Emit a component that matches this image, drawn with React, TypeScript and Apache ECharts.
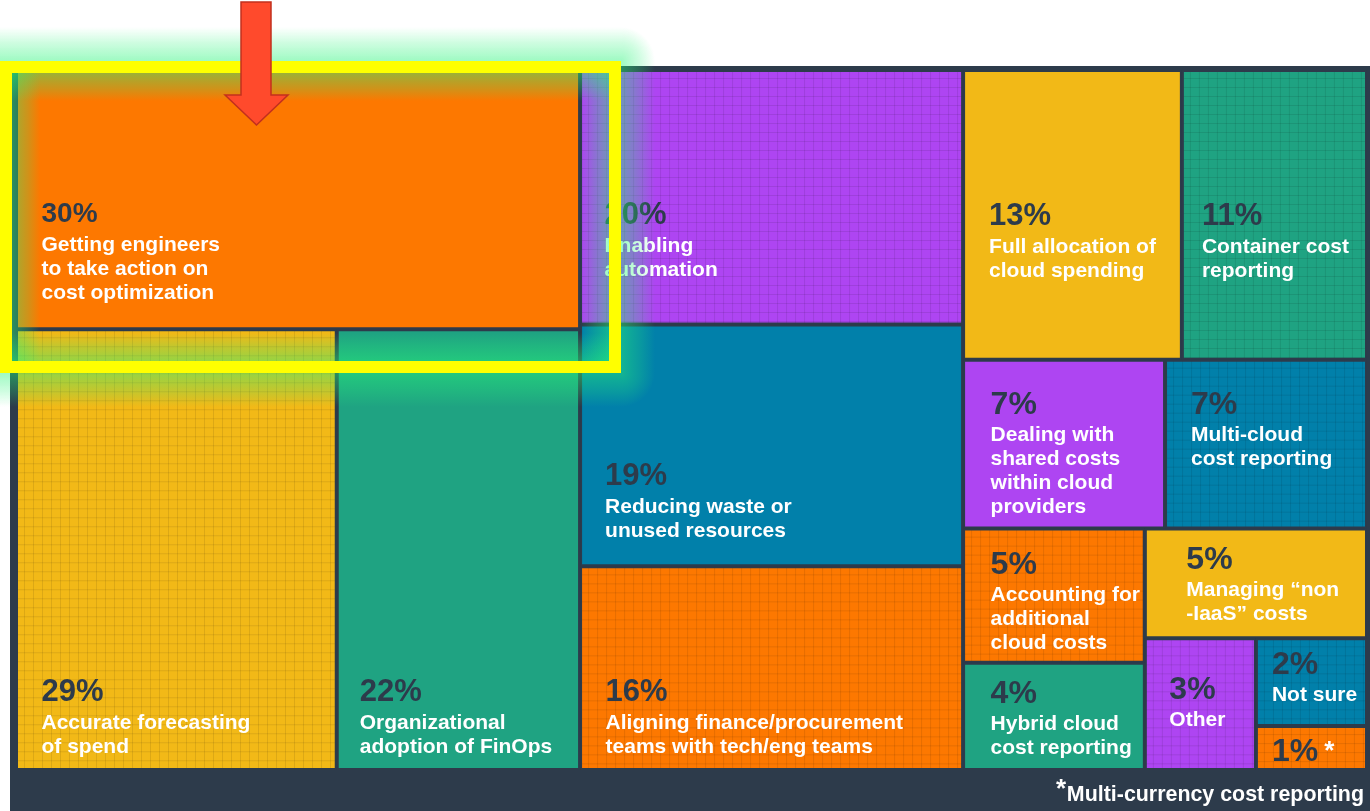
import React, { useEffect, useRef } from "react";
import * as echarts from "echarts";

// ---------- data ----------
const categories = [
  "Getting engineers\nto take action on\ncost optimization",
  "Accurate forecasting\nof spend",
  "Organizational\nadoption of FinOps",
  "Enabling\nautomation",
  "Reducing waste or\nunused resources",
  "Aligning finance/procurement\nteams with tech/eng teams",
  "Full allocation of\ncloud spending",
  "Container cost\nreporting",
  "Dealing with\nshared costs\nwithin cloud\nproviders",
  "Multi-cloud\ncost reporting",
  "Accounting for\nadditional\ncloud costs",
  "Managing \u201cnon\n-IaaS\u201d costs",
  "Hybrid cloud\ncost reporting",
  "Other",
  "Not sure",
  "Multi-currency cost reporting",
];
const values = [30, 29, 22, 20, 19, 16, 13, 11, 7, 7, 5, 5, 4, 3, 2, 1];
const footnoteIndex = 15;

// nesting of the tiles (indices into categories / values)
const layoutTree: any[] = [
  [0, [1, 2]],
  [3, 4, 5],
  [[6, 7], [8, 9], [[10, 12], [11, [13, [14, 15]]]]],
];

// ---------- styles ----------
const DARK = "#2d3b4b";
const FONT = "'Liberation Sans', Arial, sans-serif";
const palette = ["#fd7800", "#f2b917", "#1fa382", "#ae45f2", "#0180aa"];
const textured = [false, true, false, true, false, true, false, true, false, true, true, false, false, true, true, true];
// percent font size per tile
const pctSizes = [28, 31, 31, 31, 31, 31, 31, 31, 32, 32, 32, 32, 32, 32, 32, 32];
// label anchor [dx, dy] inside each tile
const labelOffsets = [
  [23.5, 120.1], [23.5, 340.5], [21, 340.5], [22.5, 122.6], [23, 128.9], [23.5, 103.4],
  [24, 124], [18, 124], [25.5, 23.4], [24, 23.4], [25.5, 14.4],
  [39.5, 9.4], [25.5, 8.6], [22.5, 29.7], [14, 4.7], [14, 3.5],
];
const CAP = 0.3695; // cap-top above the central baseline, in em

function gridPattern(color: string) {
  const s = 9;
  const svg =
    `<svg xmlns='http://www.w3.org/2000/svg' width='${s}' height='${s}'>` +
    `<rect width='${s}' height='${s}' fill='${color}'/>` +
    `<path d='M0 ${s - 0.5}H${s}M${s - 0.5} 0V${s}' stroke='rgba(0,0,0,0.09)' stroke-width='1' fill='none'/></svg>`;
  return {
    image: "data:image/svg+xml;charset=utf-8," + encodeURIComponent(svg),
    repeat: "repeat",
    imageWidth: s,
    imageHeight: s,
  };
}

function leaf(i: number) {
  const base = palette[i % palette.length];
  return {
    name: categories[i],
    value: values[i],
    idx: i,
    itemStyle: {
      color: textured[i] ? gridPattern(base) : base,
      borderWidth: 2,
      borderColor: DARK,
      gapWidth: 0,
    },
    label: { position: labelOffsets[i] },
  };
}

let groupCount = 0;
function buildNode(n: any): any {
  if (typeof n === "number") return leaf(n);
  groupCount += 1;
  return {
    name: "group" + groupCount,
    children: n.map(buildNode),
    itemStyle: { borderWidth: 0, gapWidth: 0, borderColor: DARK },
  };
}

function buildRich() {
  const rich: any = {
    name: { fontFamily: FONT, fontWeight: "bold", fontSize: 21, lineHeight: 24, color: "#ffffff" },
    star: { fontFamily: FONT, fontWeight: "bold", fontSize: 26, lineHeight: 36, color: "#ffffff", padding: [0, 0, 0, 6] },
    pctS: { fontFamily: FONT, fontWeight: "bold", fontSize: 32, lineHeight: 36, color: DARK },
  };
  Array.from(new Set(pctSizes)).forEach((fs) => {
    rich["p" + fs] = {
      fontFamily: FONT,
      fontWeight: "bold",
      fontSize: fs,
      lineHeight: 2 * (30.26 - CAP * fs),
      color: DARK,
    };
  });
  return rich;
}

const glow = (a: number) => `rgba(40,245,120,${a})`;
const stops = [
  { offset: 0, color: glow(0.45) },
  { offset: 0.55, color: glow(0.22) },
  { offset: 1, color: glow(0) },
];
function lin(x: number, y: number, x2: number, y2: number) {
  return { type: "linear", x, y, x2, y2, colorStops: stops };
}
function rad(x: number, y: number) {
  return { type: "radial", x, y, r: 1, colorStops: stops };
}
function band(x: number, y: number, w: number, h: number, fill: any) {
  return { type: "rect", silent: true, z: 100, shape: { x, y, width: w, height: h }, style: { fill } };
}

function buildOption(): any {
  groupCount = 0;
  const tree = layoutTree.map(buildNode);
  return {
    animation: false,
    graphic: [
      { type: "rect", silent: true, z: 0, shape: { x: 10, y: 66, width: 1360, height: 745 }, style: { fill: DARK } },
      // outer glow
      band(0, 27, 621, 34, lin(0, 1, 0, 0)),
      band(0, 373, 621, 34, lin(0, 0, 0, 1)),
      band(621, 61, 34, 312, lin(0, 0, 1, 0)),
      band(621, 27, 34, 34, rad(0, 1)),
      band(621, 373, 34, 34, rad(0, 0)),
      // inner glow
      band(12, 73, 597, 28, lin(0, 0, 0, 1)),
      band(12, 333, 597, 28, lin(0, 1, 0, 0)),
      band(12, 73, 28, 288, lin(0, 0, 1, 0)),
      band(581, 73, 28, 288, lin(1, 0, 0, 0)),
      {
        type: "rect",
        silent: true,
        z: 101,
        shape: { x: 6, y: 67, width: 609, height: 300 },
        style: { fill: "none", stroke: "#ffff00", lineWidth: 12 },
      },
      {
        type: "polygon",
        silent: true,
        z: 102,
        shape: {
          points: [
            [241, 2], [271, 2], [271, 95], [288, 95], [256.5, 125], [225, 95], [241, 95],
          ],
        },
        style: { fill: "#ff4a2c", stroke: "#c2301e", lineWidth: 1.5 },
      },
      {
        type: "text",
        silent: true,
        z: 102,
        style: {
          text: categories[footnoteIndex],
          x: 1364,
          y: 794,
          align: "right",
          verticalAlign: "middle",
          fill: "#ffffff",
          fontFamily: FONT,
          fontWeight: "bold",
          fontSize: 21.4,
        },
      },
      {
        type: "text",
        silent: true,
        z: 102,
        style: {
          text: "*",
          x: 1066,
          y: 788,
          align: "right",
          verticalAlign: "middle",
          fill: "#ffffff",
          fontFamily: FONT,
          fontWeight: "bold",
          fontSize: 26,
        },
      },
    ],
    series: [
      {
        type: "treemap",
        left: 16,
        top: 70,
        width: 1351,
        height: 700,
        roam: false,
        nodeClick: false,
        sort: false,
        squareRatio: 1,
        visibleMin: 0,
        breadcrumb: { show: false },
        upperLabel: { show: false },
        itemStyle: { borderWidth: 0, gapWidth: 0, borderColor: DARK },
        label: {
          show: true,
          padding: 0,
          distance: 0,
          overflow: "none",
          formatter: (p: any) => {
            const i = p.data ? p.data.idx : -1;
            if (i === footnoteIndex) return `{pctS|${p.value}%}{star|*}`;
            return `{p${pctSizes[i]}|${p.value}%}\n{name|${p.name}}`;
          },
          rich: buildRich(),
        },
        data: tree,
      },
    ],
  };
}

export default function App() {
  const ref = useRef<HTMLDivElement>(null);
  useEffect(() => {
    if (!ref.current) return;
    const chart = echarts.init(ref.current, null, { renderer: "svg" });
    chart.setOption(buildOption());
    return () => chart.dispose();
  }, []);
  return (
    <div
      ref={ref}
      style={{ position: "fixed", left: 0, top: 0, width: 1370, height: 811 }}
    />
  );
}
